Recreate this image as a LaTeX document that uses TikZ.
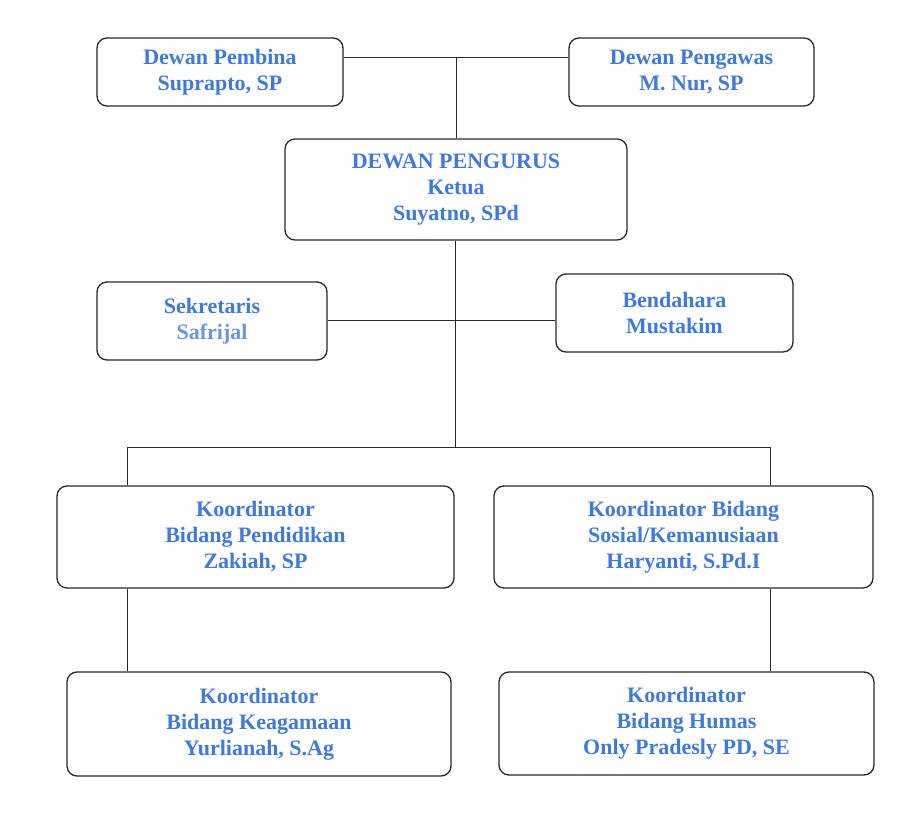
\documentclass[tikz,border=0pt]{standalone}
\usepackage{fontspec}
\setmainfont{Liberation Serif}
\definecolor{txtblue}{RGB}{62,122,222}
\definecolor{lightblue}{RGB}{105,150,225}
\definecolor{edge}{RGB}{40,40,40}
\begin{document}
\begin{tikzpicture}[x=1pt,y=-1pt,
  box/.style={draw=edge,line width=1.3pt,rounded corners=10pt,fill=white,align=center,
    font=\bfseries\fontsize{22}{26}\selectfont,text=txtblue,inner sep=0pt},
  link/.style={draw=edge,line width=1pt}]
\useasboundingbox (0,0) rectangle (918,818);
\fill[white] (0,0) rectangle (918,818);
% boxes
\node[box,minimum width=246pt,minimum height=68pt] (pembina) at (220,72) {Dewan Pembina\\Suprapto, SP};
\node[box,minimum width=245pt,minimum height=68pt] (pengawas) at (691.5,72) {Dewan Pengawas\\M. Nur, SP};
\node[box,minimum width=342pt,minimum height=101pt] (pengurus) at (456,189.5) {DEWAN PENGURUS\\Ketua\\Suyatno, SPd};
\node[box,minimum width=230pt,minimum height=78pt] (sekretaris) at (212,321) {Sekretaris\\\textcolor{lightblue}{Safrijal}};
\node[box,minimum width=237pt,minimum height=78pt] (bendahara) at (674.5,313) {Bendahara\\Mustakim};
\node[box,minimum width=397pt,minimum height=102pt] (pendidikan) at (255.5,537) {Koordinator\\Bidang Pendidikan\\Zakiah, SP};
\node[box,minimum width=379pt,minimum height=102pt] (sosial) at (683.5,537) {Koordinator Bidang\\Sosial/Kemanusiaan\\Haryanti, S.Pd.I};
\node[box,minimum width=384pt,minimum height=104pt] (keagamaan) at (259,724) {Koordinator\\Bidang Keagamaan\\Yurlianah, S.Ag};
\node[box,minimum width=375pt,minimum height=103pt] (humas) at (686.5,723.5) {Koordinator\\Bidang Humas\\Only Pradesly PD, SE};
% coordinates
\coordinate (topj) at (456,58);
\coordinate (midj) at (455,320);
\coordinate (botj) at (455,447);
\coordinate (lj) at (127,447);
\coordinate (rj) at (770,447);
% connectors
\begin{scope}[on background layer/.try]
\end{scope}
\draw[link] (pembina.east |- topj) -- (pengawas.west |- topj);
\draw[link] (topj) -- (topj |- pengurus.north);
\draw[link] (pengurus.south -| botj) -- (botj);
\draw[link] (sekretaris.east |- midj) -- (bendahara.west |- midj);
\draw[link] (lj) -- (rj);
\draw[link] (lj) -- (lj |- pendidikan.north);
\draw[link] (rj) -- (rj |- sosial.north);
\draw[link] (lj |- pendidikan.south) -- (lj |- keagamaan.north);
\draw[link] (rj |- sosial.south) -- (rj |- humas.north);
\end{tikzpicture}
\end{document}
